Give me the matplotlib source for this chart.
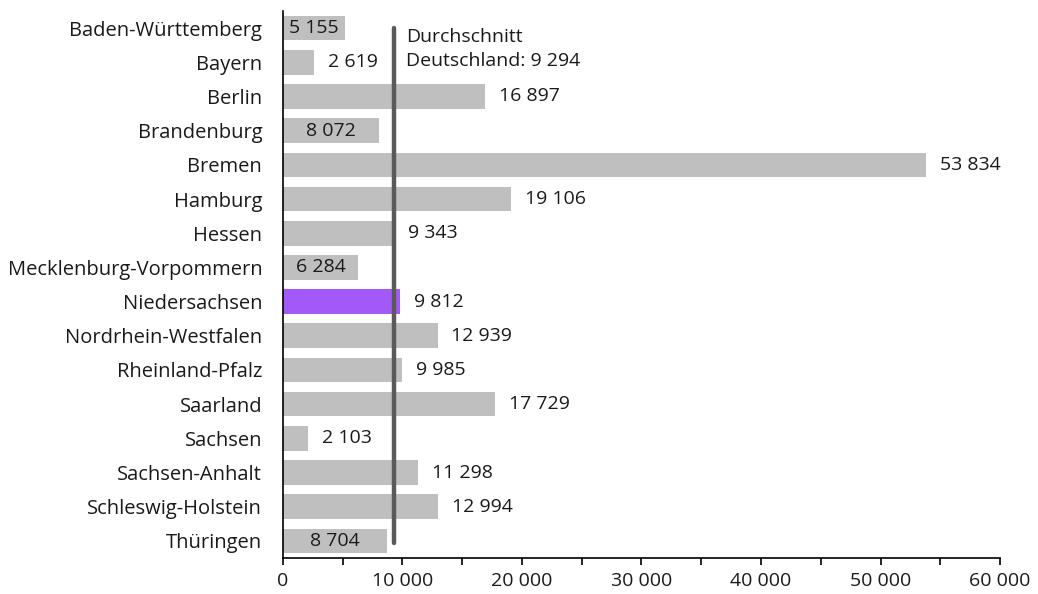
import matplotlib
matplotlib.use('Agg')
import matplotlib.pyplot as plt
from matplotlib.ticker import MultipleLocator, FuncFormatter

plt.rcParams['font.family'] = ['Open Sans', 'DejaVu Sans']

# data
laender = ['Baden-Württemberg', 'Bayern', 'Berlin', 'Brandenburg', 'Bremen',
           'Hamburg', 'Hessen', 'Mecklenburg-Vorpommern', 'Niedersachsen',
           'Nordrhein-Westfalen', 'Rheinland-Pfalz', 'Saarland', 'Sachsen',
           'Sachsen-Anhalt', 'Schleswig-Holstein', 'Thüringen']
werte = [5155, 2619, 16897, 8072, 53834, 19106, 9343, 6284, 9812,
         12939, 9985, 17729, 2103, 11298, 12994, 8704]
inside = ['Baden-Württemberg', 'Brandenburg', 'Mecklenburg-Vorpommern', 'Thüringen']
highlight = 'Niedersachsen'
durchschnitt = 9294

FS = 14

def fmt(v):
    return '{:,}'.format(int(v)).replace(',', ' ')

fig = plt.figure(figsize=(10.38, 5.94), dpi=100)
ax = fig.add_axes([0.2726, 0.0606, 0.6908, 0.9209])

ypos = list(range(len(laender)))
colors = ['#A259F7' if l == highlight else '#BFBFBF' for l in laender]
ax.barh(ypos, werte, height=0.72, color=colors, zorder=2)

for y, l, v in zip(ypos, laender, werte):
    if l in inside:
        ax.text(v / 2, y, fmt(v), ha='center', va='center', fontsize=FS,
                color='#1a1a1a', zorder=4)
    else:
        ax.text(v + 1150, y, fmt(v), ha='left', va='center', fontsize=FS,
                color='#1a1a1a', zorder=4)

# average line
ax.plot([durchschnitt, durchschnitt], [0.0, 15.05], color='#5a5a5a',
        lw=3.2, solid_capstyle='round', zorder=3)
ax.text(durchschnitt + 1000, 0.0, 'Durchschnitt\nDeutschland: ' + fmt(durchschnitt),
        ha='left', va='top', fontsize=FS, color='#1a1a1a', linespacing=1.45)

ax.set_yticks(ypos)
ax.set_yticklabels(laender, fontsize=14.5, color='#1a1a1a')
ax.set_ylim(len(laender) - 0.5, -0.5)
ax.set_xlim(0, 60000)
ax.xaxis.set_major_locator(MultipleLocator(10000))
ax.xaxis.set_minor_locator(MultipleLocator(5000))
ax.xaxis.set_major_formatter(FuncFormatter(lambda v, p: fmt(v)))
ax.tick_params(axis='x', which='both', length=5, width=1.2, labelsize=FS,
               labelcolor='#1a1a1a', pad=5)
ax.tick_params(axis='y', length=0, pad=15)

for s in ['top', 'right']:
    ax.spines[s].set_visible(False)
ax.spines['left'].set_linewidth(1.2)
ax.spines['bottom'].set_linewidth(1.2)

fig.savefig('out.png', dpi=100)
